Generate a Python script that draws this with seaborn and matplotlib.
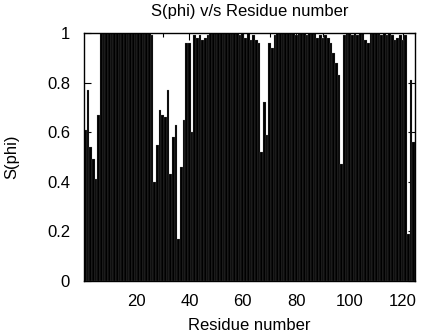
import matplotlib
matplotlib.use("Agg")
import matplotlib.pyplot as plt
from matplotlib.ticker import FormatStrFormatter
import seaborn as sns
import pandas as pd

# Residue numbers 1..124
residues = list(range(1, 125))

# S(phi) order parameter per residue
s_phi = [
    0.61, 0.77, 0.54, 0.49, 0.41, 0.67, 1.00, 1.00, 1.00, 1.00,
    1.00, 1.00, 1.00, 1.00, 1.00, 1.00, 1.00, 1.00, 1.00, 1.00,
    1.00, 1.00, 1.00, 1.00, 1.00, 0.99, 0.40, 0.55, 0.69, 0.67,
    0.66, 0.77, 0.43, 0.58, 0.63, 0.17, 0.46, 0.65, 0.96, 0.96,
    0.60, 0.99, 0.98, 0.99, 0.97, 0.98, 0.99, 1.00, 1.00, 1.00,
    1.00, 1.00, 1.00, 1.00, 1.00, 1.00, 1.00, 1.00, 0.99, 1.00,
    0.98, 1.00, 0.97, 0.99, 0.97, 0.96, 0.52, 0.72, 0.59, 0.96,
    0.94, 0.99, 1.00, 1.00, 1.00, 1.00, 1.00, 1.00, 1.00, 0.99,
    1.00, 1.00, 1.00, 0.99, 1.00, 1.00, 1.00, 0.98, 0.99, 0.98,
    0.99, 0.98, 0.96, 0.92, 0.88, 0.83, 0.47, 0.99, 1.00, 1.00,
    0.99, 1.00, 0.99, 1.00, 1.00, 0.97, 0.96, 1.00, 1.00, 1.00,
    1.00, 0.99, 1.00, 0.99, 1.00, 0.99, 0.97, 0.98, 0.99, 0.97,
    0.99, 0.19, 0.81, 0.56,
]

x_ticks = [20, 40, 60, 80, 100, 120]
x_minor = [10, 30, 50, 70, 90, 110]
y_ticks = [0, 0.2, 0.4, 0.6, 0.8, 1.0]

title = "S(phi) v/s Residue number"
xlabel = "Residue number"
ylabel = "S(phi)"

df = pd.DataFrame({"residue": residues, "s_phi": s_phi})

sns.set_theme(style="ticks")
plt.rcParams["font.family"] = ["Liberation Sans", "DejaVu Sans"]
for k in ["text.color", "axes.labelcolor", "xtick.color", "ytick.color"]:
    plt.rcParams[k] = "black"

W, H = 424, 336
fig = plt.figure(figsize=(W / 100, H / 100), dpi=100)
ax = fig.add_axes([84 / W, 1 - 281 / H, (415 - 84) / W, (281 - 33) / H])

sns.barplot(data=df, x="residue", y="s_phi", native_scale=True, color="black",
            saturation=1, width=1, edgecolor="#8a8a8a", linewidth=0.15,
            errorbar=None, ax=ax)

ax.set_xlim(0.5, 124.5)
ax.set_ylim(0, 1)
ax.set_xticks(x_ticks)
ax.set_xticks(x_minor, minor=True)
ax.set_yticks(y_ticks)
ax.yaxis.set_major_formatter(FormatStrFormatter("%g"))

fs = 12
ax.tick_params(which="major", direction="in", top=True, right=True, length=5,
               width=0.8, labelsize=fs, colors="black")
ax.tick_params(axis="y", pad=10)
ax.tick_params(axis="x", pad=9)
ax.tick_params(which="minor", direction="in", top=True, bottom=True, length=3,
               width=0.8)
for s in ax.spines.values():
    s.set_visible(True)
    s.set_linewidth(1.0)
    s.set_color("black")

ax.set_title(title, fontsize=fs, pad=12)
ax.set_xlabel(xlabel, fontsize=fs, labelpad=7)
ax.set_ylabel(ylabel, fontsize=fs, labelpad=20)

fig.savefig("out.png", dpi=100)
